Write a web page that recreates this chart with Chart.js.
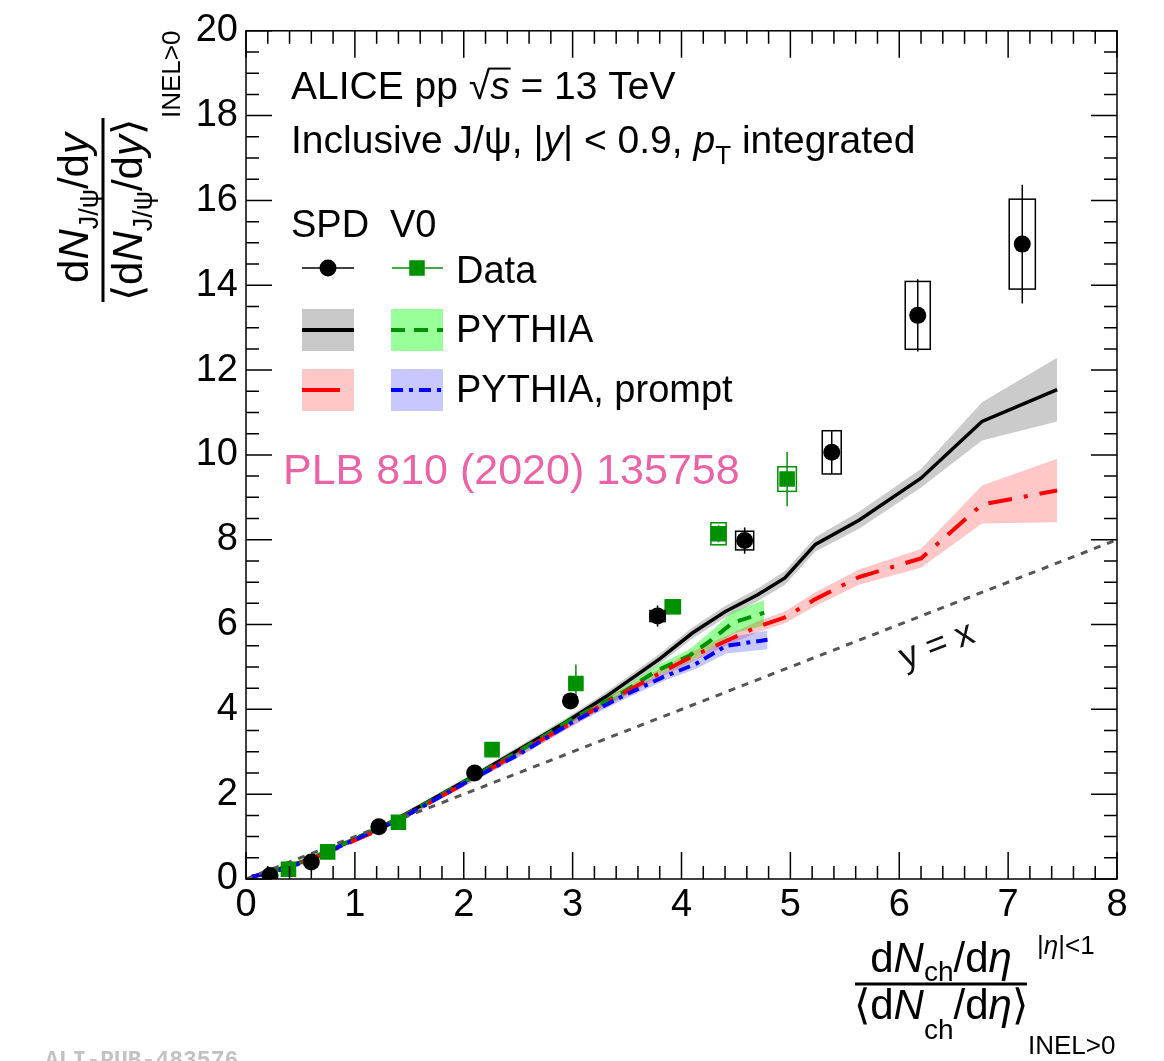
<!DOCTYPE html>
<html>
<head>
<meta charset="utf-8">
<script src="https://cdn.jsdelivr.net/npm/chart.js@4.4.0/dist/chart.umd.min.js"></script>
<style>
  html, body { margin: 0; padding: 0; background: #fff; }
  #wrap { width: 1164px; height: 1061px; }
</style>
</head>
<body>
<div id="wrap"><canvas id="jpsiChart" width="1164" height="1061"></canvas></div>
<script>
// J/psi self-normalised yield vs self-normalised multiplicity, pp 13 TeV

// SPD estimator data
var spdX    = [0.22, 0.60, 1.22, 2.10, 2.98, 3.78, 4.58, 5.38, 6.17, 7.13];
var spdY    = [0.08, 0.40, 1.23, 2.50, 4.20, 6.20, 7.98, 10.06, 13.29, 14.97];
var spdStat = [0.02, 0.04, 0.06, 0.08, 0.15, 0.25, 0.31, 0.50, 0.85, 1.40];
var spdSys  = [0.01, 0.02, 0.04, 0.06, 0.09, 0.13, 0.22, 0.51, 0.80, 1.06];
var spdBoxW = [0.05, 0.05, 0.05, 0.06, 0.06, 0.07, 0.083, 0.087, 0.115, 0.12];

// V0 estimator data
var v0X    = [0.39, 0.75, 1.40, 2.26, 3.03, 3.92, 4.34, 4.97];
var v0Y    = [0.23, 0.64, 1.34, 3.05, 4.61, 6.42, 8.14, 9.43];
var v0Stat = [0.02, 0.04, 0.06, 0.10, 0.45, 0.15, 0.20, 0.64];
var v0Sys  = [0.01, 0.03, 0.05, 0.08, 0.12, 0.16, 0.26, 0.29];
var v0BoxW = [0.05, 0.05, 0.05, 0.06, 0.06, 0.07, 0.07, 0.085];

// PYTHIA, SPD (inclusive and prompt share the same x bins)
var pySpdX         = [0.05, 0.22, 0.60, 1.22, 1.60, 2.10, 2.50, 2.95, 3.30, 3.80, 4.10, 4.40, 4.70, 4.95, 5.23, 5.63, 6.20, 6.76, 7.45];
var pySpdY         = [0.05, 0.17, 0.48, 1.19, 1.72, 2.44, 3.04, 3.72, 4.29, 5.19, 5.80, 6.30, 6.70, 7.10, 7.89, 8.46, 9.45, 10.79, 11.54];
var pySpdErr       = [0.02, 0.03, 0.04, 0.05, 0.06, 0.07, 0.08, 0.09, 0.10, 0.12, 0.13, 0.14, 0.15, 0.16, 0.17, 0.20, 0.22, 0.45, 0.75];
var pyPromptSpdY   = [0.05, 0.16, 0.46, 1.16, 1.68, 2.38, 2.97, 3.62, 4.15, 4.85, 5.25, 5.60, 5.95, 6.17, 6.60, 7.12, 7.56, 8.83, 9.16];
var pyPromptSpdErr = [0.02, 0.03, 0.04, 0.05, 0.06, 0.07, 0.08, 0.09, 0.10, 0.11, 0.12, 0.12, 0.13, 0.14, 0.16, 0.18, 0.22, 0.45, 0.75];

// PYTHIA, V0
var pyV0X    = [0.05, 0.39, 0.75, 1.40, 2.00, 2.50, 3.00, 3.46, 3.77, 4.07, 4.26, 4.47, 4.76];
var pyV0Y    = [0.05, 0.27, 0.66, 1.42, 2.28, 3.00, 3.78, 4.40, 4.91, 5.26, 5.61, 6.04, 6.28];
var pyV0Err  = [0.02, 0.03, 0.04, 0.05, 0.06, 0.07, 0.08, 0.10, 0.12, 0.15, 0.20, 0.26, 0.30];
var pyPromptV0X   = [0.05, 0.39, 0.75, 1.40, 2.00, 2.50, 3.02, 3.46, 3.83, 4.13, 4.41, 4.79];
var pyPromptV0Y   = [0.05, 0.26, 0.64, 1.39, 2.25, 2.93, 3.73, 4.31, 4.76, 5.07, 5.50, 5.64];
var pyPromptV0Err = [0.02, 0.03, 0.04, 0.05, 0.06, 0.07, 0.08, 0.09, 0.10, 0.12, 0.18, 0.22];

// y = x reference
var refX = [0, 8];
var refY = [0, 8];

var FONT = "'Liberation Sans', Arial, Helvetica, sans-serif";
var GREEN = 'rgb(0,145,0)';

function pts(xs, ys) {
     return xs.map(function(x, i){ return {x: x, y: ys[i]}; });
}
function shift(ys, err, sign) {
     return ys.map(function(v, i){ return v + sign * err[i]; });
}

function curve(xs, ys, color, dash, order) {
     return {
          data: pts(xs, ys), borderColor: color, borderWidth: 4, borderDash: dash,
          pointRadius: 0, fill: false, tension: 0, order: order
     };
}
function bandPair(xs, ys, err, color, order) {
     return [
          { data: pts(xs, shift(ys, err, 1)), borderWidth: 0, pointRadius: 0,
            backgroundColor: color, fill: '+1', tension: 0, order: order },
          { data: pts(xs, shift(ys, err, -1)), borderWidth: 0, pointRadius: 0,
            fill: false, tension: 0, order: order + 1 }
     ];
}

// ---------- text helpers ----------
function fontOf(r) {
     return (r.it ? 'italic ' : '') + r.size + 'px ' + FONT;
}
function richWidth(ctx, runs) {
     var w = 0;
     runs.forEach(function(r){ ctx.font = fontOf(r); w += ctx.measureText(r.t).width; });
     return w;
}
function drawRich(ctx, x, y, runs) {
     var cx = x;
     runs.forEach(function(r){
          ctx.font = fontOf(r);
          var w = ctx.measureText(r.t).width;
          ctx.fillText(r.t, cx, y + (r.dy || 0));
          if (r.over) {
               ctx.save();
               ctx.lineWidth = 2;
               ctx.beginPath();
               ctx.moveTo(cx - 2, y - r.size * 0.78);
               ctx.lineTo(cx + w + 1, y - r.size * 0.78);
               ctx.stroke();
               ctx.restore();
          }
          cx += w;
     });
     return cx - x;
}

// ---------- error bars and systematic boxes ----------
var errorBars = {
     id: 'errorBars',
     beforeDatasetDraw: function(chart, args) {
          var ds = chart.data.datasets[args.index];
          if (!ds.stat) return;
          var xs = chart.scales.x, ys = chart.scales.y, ctx = chart.ctx;
          ctx.save();
          ctx.strokeStyle = ds.backgroundColor;
          ctx.lineWidth = 1.5;
          ds.data.forEach(function(p, i){
               var x0 = xs.getPixelForValue(p.x - ds.boxW[i]);
               var x1 = xs.getPixelForValue(p.x + ds.boxW[i]);
               var y0 = ys.getPixelForValue(p.y + ds.sys[i]);
               var y1 = ys.getPixelForValue(p.y - ds.sys[i]);
               ctx.strokeRect(x0, y0, x1 - x0, y1 - y0);
               var px = xs.getPixelForValue(p.x);
               ctx.beginPath();
               ctx.moveTo(px, ys.getPixelForValue(p.y + ds.stat[i]));
               ctx.lineTo(px, ys.getPixelForValue(p.y - ds.stat[i]));
               ctx.stroke();
          });
          ctx.restore();
     }
};

// ---------- frame with inward ticks on all four sides ----------
var frameTicks = {
     id: 'frameTicks',
     afterDatasetsDraw: function(chart) {
          var ctx = chart.ctx, a = chart.chartArea, x = chart.scales.x, y = chart.scales.y;
          ctx.save();
          ctx.strokeStyle = '#000';
          ctx.lineWidth = 1.5;
          ctx.beginPath();
          for (var i = 0; i <= 40; i++) {
               var px = x.getPixelForValue(i * 0.2);
               var len = (i % 5 === 0) ? 27 : 13;
               ctx.moveTo(px, a.bottom); ctx.lineTo(px, a.bottom - len);
               ctx.moveTo(px, a.top); ctx.lineTo(px, a.top + len);
          }
          for (var j = 0; j <= 40; j++) {
               var py = y.getPixelForValue(j * 0.5);
               var l2 = (j % 4 === 0) ? 26 : 13;
               ctx.moveTo(a.left, py); ctx.lineTo(a.left + l2, py);
               ctx.moveTo(a.right, py); ctx.lineTo(a.right - l2, py);
          }
          ctx.stroke();
          ctx.strokeRect(a.left, a.top, a.right - a.left, a.bottom - a.top);
          ctx.restore();
     }
};

// ---------- titles, legend and labels ----------
var annotations = {
     id: 'annotations',
     afterDraw: function(chart) {
          var ctx = chart.ctx;
          ctx.save();
          ctx.fillStyle = '#000';
          ctx.strokeStyle = '#000';
          ctx.textBaseline = 'alphabetic';
          ctx.textAlign = 'left';

          // header
          drawRich(ctx, 291, 99, [
               {t: 'ALICE pp ', size: 39}, {t: '\u221A', size: 39},
               {t: 's', size: 39, it: true, over: true}, {t: ' = 13 TeV', size: 39}
          ]);
          drawRich(ctx, 291, 153, [
               {t: 'Inclusive J/\u03C8, |', size: 39}, {t: 'y', size: 39, it: true},
               {t: '| < 0.9, ', size: 39}, {t: 'p', size: 39, it: true},
               {t: 'T', size: 26, dy: 11}, {t: ' integrated', size: 39}
          ]);
          ctx.font = '38px ' + FONT;
          ctx.fillText('SPD', 291, 237);
          ctx.fillText('V0', 390, 237);

          // legend: data
          ctx.lineWidth = 1.5;
          ctx.beginPath(); ctx.moveTo(302, 268); ctx.lineTo(354, 268); ctx.stroke();
          ctx.beginPath(); ctx.arc(328, 268, 8.5, 0, Math.PI * 2); ctx.fill();
          ctx.strokeStyle = GREEN; ctx.fillStyle = GREEN;
          ctx.beginPath(); ctx.moveTo(392, 268); ctx.lineTo(443, 268); ctx.stroke();
          ctx.fillRect(417 - 7.75, 268 - 7.75, 15.5, 15.5);
          ctx.fillStyle = '#000';
          ctx.fillText('Data', 456, 283);

          // legend: PYTHIA
          ctx.fillStyle = 'rgb(200,200,200)'; ctx.fillRect(302, 309, 52, 42);
          ctx.fillStyle = 'rgb(153,255,153)'; ctx.fillRect(391, 309, 52, 42);
          ctx.fillStyle = 'rgb(255,200,200)'; ctx.fillRect(302, 369, 52, 42);
          ctx.fillStyle = 'rgb(200,200,255)'; ctx.fillRect(391, 369, 52, 42);
          ctx.lineWidth = 4;
          ctx.strokeStyle = '#000';
          ctx.beginPath(); ctx.moveTo(302, 330); ctx.lineTo(354, 330); ctx.stroke();
          ctx.strokeStyle = GREEN; ctx.setLineDash([14, 9]);
          ctx.beginPath(); ctx.moveTo(391, 330); ctx.lineTo(443, 330); ctx.stroke();
          ctx.strokeStyle = 'red'; ctx.setLineDash([38, 20]);
          ctx.beginPath(); ctx.moveTo(302, 390); ctx.lineTo(354, 390); ctx.stroke();
          ctx.strokeStyle = 'blue'; ctx.setLineDash([12, 6, 4, 6]);
          ctx.beginPath(); ctx.moveTo(391, 390); ctx.lineTo(443, 390); ctx.stroke();
          ctx.setLineDash([]);
          ctx.strokeStyle = '#000';
          ctx.fillStyle = '#000';
          ctx.font = '38px ' + FONT;
          ctx.fillText('PYTHIA', 456, 342);
          ctx.fillText('PYTHIA, prompt', 456, 402);

          // publication reference
          ctx.fillStyle = 'rgb(236,98,166)';
          ctx.font = '43px ' + FONT;
          ctx.fillText('PLB 810 (2020) 135758', 283, 484);

          // y = x label
          ctx.fillStyle = '#111';
          ctx.save();
          ctx.translate(937, 646);
          ctx.rotate(-21 * Math.PI / 180);
          ctx.font = '36px ' + FONT;
          ctx.textAlign = 'center';
          ctx.textBaseline = 'middle';
          ctx.fillText('y = x', 0, 0);
          ctx.restore();

          // x axis title
          ctx.fillStyle = '#000';
          ctx.strokeStyle = '#000';
          var num = [
               {t: 'd', size: 42}, {t: 'N', size: 42, it: true}, {t: 'ch', size: 28, dy: 9},
               {t: '/d', size: 42}, {t: '\u03B7', size: 42, it: true}
          ];
          var den = [
               {t: '\u27E8d', size: 42}, {t: 'N', size: 42, it: true}, {t: 'ch', size: 28, dy: 20},
               {t: '/d', size: 42}, {t: '\u03B7', size: 42, it: true}, {t: '\u27E9', size: 42}
          ];
          drawRich(ctx, 941 - richWidth(ctx, num) / 2, 972, num);
          drawRich(ctx, 941 - richWidth(ctx, den) / 2, 1019, den);
          ctx.lineWidth = 3;
          ctx.beginPath(); ctx.moveTo(855, 984); ctx.lineTo(1027, 984); ctx.stroke();
          drawRich(ctx, 1037, 954, [
               {t: '|', size: 26}, {t: '\u03B7', size: 26, it: true}, {t: '|<1', size: 26}
          ]);
          ctx.font = '26px ' + FONT;
          ctx.fillText('INEL>0', 1028, 1054);

          // y axis title (rotated)
          ctx.save();
          ctx.rotate(-Math.PI / 2);
          var ynum = [
               {t: 'd', size: 42}, {t: 'N', size: 42, it: true}, {t: 'J/\u03C8', size: 27, dy: 10},
               {t: '/d', size: 42}, {t: 'y', size: 42, it: true}
          ];
          var yden = [
               {t: '\u27E8d', size: 42}, {t: 'N', size: 42, it: true}, {t: 'J/\u03C8', size: 27, dy: 10},
               {t: '/d', size: 42}, {t: 'y', size: 42, it: true}, {t: '\u27E9', size: 42}
          ];
          drawRich(ctx, -208 - richWidth(ctx, ynum) / 2, 88, ynum);
          drawRich(ctx, -210 - richWidth(ctx, yden) / 2, 142, yden);
          ctx.lineWidth = 3;
          ctx.beginPath(); ctx.moveTo(-302, 103); ctx.lineTo(-118, 103); ctx.stroke();
          ctx.font = '26px ' + FONT;
          ctx.fillText('INEL>0', -118, 180);
          ctx.restore();

          // publication id
          ctx.fillStyle = '#c2c2c2';
          ctx.font = 'bold 23px "Liberation Mono", "DejaVu Sans Mono", monospace';
          ctx.fillText('ALI-PUB-483576', 45, 1067);

          ctx.restore();
     }
};

var datasets = [
     { data: pts(spdX, spdY), showLine: false, pointStyle: 'circle', pointRadius: 8.5,
       backgroundColor: '#000', borderWidth: 0, order: 0,
       stat: spdStat, sys: spdSys, boxW: spdBoxW },
     { data: pts(v0X, v0Y), showLine: false, pointStyle: 'rect', pointRadius: 11,
       backgroundColor: GREEN, borderWidth: 0, order: 1,
       stat: v0Stat, sys: v0Sys, boxW: v0BoxW },
     { data: pts(refX, refY), borderColor: '#555', borderWidth: 3, borderDash: [7, 7],
       pointRadius: 0, fill: false, order: 5 },
     curve(pyPromptV0X, pyPromptV0Y, 'blue', [12, 6, 4, 6], 6),
     curve(pySpdX, pyPromptSpdY, 'red', [24, 12, 4, 12], 7),
     curve(pyV0X, pyV0Y, GREEN, [14, 9], 8),
     curve(pySpdX, pySpdY, '#000', [], 9)
];
datasets[6].borderWidth = 3.5;
datasets = datasets
     .concat(bandPair(pyPromptV0X, pyPromptV0Y, pyPromptV0Err, 'rgba(0,0,255,0.22)', 10))
     .concat(bandPair(pySpdX, pyPromptSpdY, pyPromptSpdErr, 'rgba(255,0,0,0.22)', 12))
     .concat(bandPair(pyV0X, pyV0Y, pyV0Err, 'rgba(0,255,0,0.4)', 14))
     .concat(bandPair(pySpdX, pySpdY, pySpdErr, 'rgba(140,140,140,0.45)', 16));

new Chart(document.getElementById('jpsiChart').getContext('2d'), {
     type: 'line',
     data: { datasets: datasets },
     options: {
          responsive: false,
          animation: false,
          events: [],
          layout: { padding: { left: 0, right: 47, top: 25, bottom: 0 } },
          plugins: { legend: { display: false }, tooltip: { enabled: false } },
          scales: {
               x: {
                    type: 'linear', min: 0, max: 8,
                    grid: { display: false, drawTicks: false },
                    border: { display: false },
                    ticks: { stepSize: 1, padding: 4, color: '#000', maxRotation: 0,
                             font: { family: FONT, size: 38 } },
                    afterFit: function(scale){ scale.height = 182; }
               },
               y: {
                    type: 'linear', min: 0, max: 20,
                    grid: { display: false, drawTicks: false },
                    border: { display: false },
                    ticks: { stepSize: 2, padding: 8, color: '#000',
                             font: { family: FONT, size: 38 } },
                    afterFit: function(scale){ scale.width = 246; }
               }
          }
     },
     plugins: [errorBars, frameTicks, annotations]
});
</script>
</body>
</html>
